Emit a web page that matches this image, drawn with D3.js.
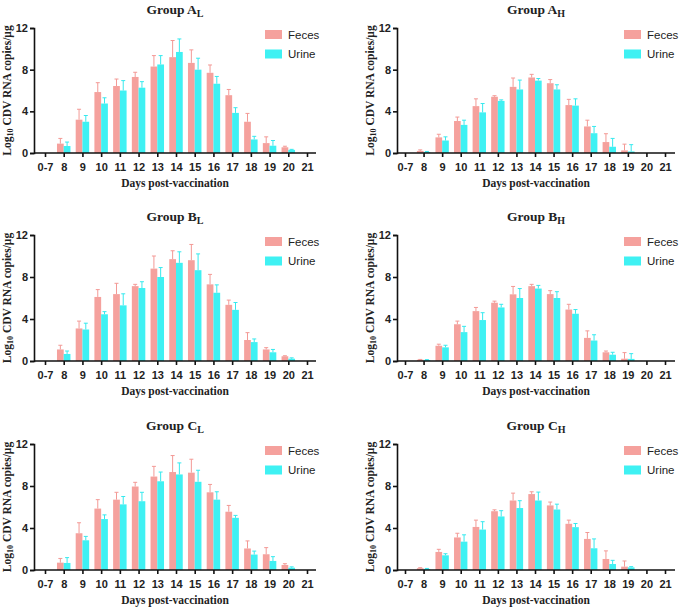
<!DOCTYPE html>
<html>
<head>
<meta charset="utf-8">
<script src="https://cdn.jsdelivr.net/npm/d3@7"></script>
<style>
  body { margin: 0; background: #fff; }
  svg { display: block; }
</style>
</head>
<body>
<svg id="chart" width="685" height="609"></svg>
<script>
// Days post-vaccination
const DAYS = ['0-7', '8', '9', '10', '11', '12', '13', '14', '15', '16', '17', '18', '19', '20', '21'];
const SERIES = ['Feces', 'Urine'];
const Y_TICKS = [0, 4, 8, 12];

// Group A low dose
const aLFeces   = [0, 0.9, 3.2, 5.85, 6.43, 7.3, 8.3, 9.2, 8.65, 7.7, 5.55, 3.0, 0.95, 0.55, 0];
const aLFecesSd = [0, 0.5, 1.0, 0.9, 0.67, 0.45, 1.05, 1.6, 1.25, 0.75, 0.55, 0.8, 0.6, 0.1, 0];
const aLUrine   = [0, 0.67, 3.0, 4.75, 6.0, 6.27, 8.5, 9.7, 8.0, 6.65, 3.85, 1.3, 0.7, 0.3, 0];
const aLUrineSd = [0, 0.38, 0.6, 0.55, 0.95, 0.58, 0.85, 1.25, 1.1, 0.7, 0.5, 0.3, 0.5, 0.05, 0];
// Group A high dose
const aHFeces   = [0, 0.2, 1.5, 3.07, 4.5, 5.4, 6.35, 7.25, 6.7, 4.6, 2.55, 1.05, 0.25, 0, 0];
const aHFecesSd = [0, 0.1, 0.3, 0.38, 0.7, 0.1, 0.85, 0.3, 0.35, 0.55, 0.6, 0.8, 0.6, 0, 0];
const aHUrine   = [0, 0.1, 1.2, 2.7, 3.9, 5.0, 6.1, 6.95, 6.1, 4.55, 1.9, 0.6, 0.15, 0, 0];
const aHUrineSd = [0, 0.05, 0.35, 0.45, 0.85, 0.1, 0.9, 0.2, 0.45, 0.65, 0.65, 0.8, 0.65, 0, 0];
// Group B low dose
const bLFeces   = [0, 1.1, 3.1, 6.1, 6.37, 7.13, 8.8, 9.7, 9.6, 7.3, 5.35, 2.0, 1.1, 0.45, 0];
const bLFecesSd = [0, 0.4, 0.7, 0.7, 1.03, 0.17, 1.2, 0.8, 1.5, 0.95, 0.45, 0.7, 0.17, 0.05, 0];
const bLUrine   = [0, 0.67, 3.0, 4.45, 5.3, 6.95, 8.0, 9.35, 8.65, 6.5, 4.87, 1.8, 0.83, 0.22, 0];
const bLUrineSd = [0, 0.28, 0.6, 0.25, 1.1, 0.6, 0.9, 1.05, 1.55, 0.75, 0.7, 0.3, 0.27, 0.08, 0];
// Group B high dose
const bHFeces   = [0, 0.12, 1.45, 3.5, 4.75, 5.55, 6.35, 7.13, 6.37, 4.9, 2.2, 0.83, 0.22, 0, 0];
const bHFecesSd = [0, 0.03, 0.15, 0.3, 0.35, 0.15, 0.75, 0.17, 0.33, 0.5, 0.67, 0.12, 0.58, 0, 0];
const bHUrine   = [0, 0.1, 1.3, 2.75, 3.9, 5.1, 6.0, 6.9, 6.0, 4.5, 1.95, 0.6, 0.2, 0, 0];
const bHUrineSd = [0, 0.03, 0.2, 0.55, 0.7, 0.3, 0.9, 0.3, 0.6, 0.4, 0.55, 0.23, 0.5, 0, 0];
// Group C low dose
const cLFeces   = [0, 0.7, 3.5, 5.85, 6.7, 7.95, 8.9, 9.33, 9.27, 7.4, 5.55, 2.05, 1.5, 0.48, 0];
const cLFecesSd = [0, 0.4, 1.0, 0.85, 0.7, 0.4, 0.97, 1.57, 1.28, 0.75, 0.6, 0.72, 0.63, 0.12, 0];
const cLUrine   = [0, 0.67, 2.83, 4.85, 6.25, 6.55, 8.45, 9.1, 8.4, 6.7, 4.97, 1.47, 0.86, 0.22, 0];
const cLUrineSd = [0, 0.51, 0.37, 0.4, 0.75, 0.85, 0.88, 1.1, 1.1, 0.75, 0.23, 0.33, 0.41, 0.08, 0];
// Group C high dose
const cHFeces   = [0, 0.17, 1.72, 3.1, 4.1, 5.6, 6.62, 7.23, 6.15, 4.4, 2.96, 1.05, 0.32, 0, 0];
const cHFecesSd = [0, 0.05, 0.25, 0.4, 0.65, 0.13, 0.7, 0.22, 0.32, 0.35, 0.61, 0.77, 0.54, 0, 0];
const cHUrine   = [0, 0.1, 1.4, 2.7, 3.85, 5.1, 5.9, 6.62, 5.76, 4.08, 2.07, 0.57, 0.25, 0, 0];
const cHUrineSd = [0, 0.05, 0.15, 0.65, 0.75, 0.55, 0.7, 0.8, 0.51, 0.35, 0.89, 0.35, 0.07, 0, 0];

const COLORS = ['#f5a19d', '#3ff1f3'];
const ERR_COLORS = ['#f39995', '#36e9ee'];

const panels = [
  { letter: 'A', sub: 'L', col: 0, row: 0, vals: [aLFeces, aLUrine], sds: [aLFecesSd, aLUrineSd] },
  { letter: 'A', sub: 'H', col: 1, row: 0, vals: [aHFeces, aHUrine], sds: [aHFecesSd, aHUrineSd] },
  { letter: 'B', sub: 'L', col: 0, row: 1, vals: [bLFeces, bLUrine], sds: [bLFecesSd, bLUrineSd] },
  { letter: 'B', sub: 'H', col: 1, row: 1, vals: [bHFeces, bHUrine], sds: [bHFecesSd, bHUrineSd] },
  { letter: 'C', sub: 'L', col: 0, row: 2, vals: [cLFeces, cLUrine], sds: [cLFecesSd, cLUrineSd] },
  { letter: 'C', sub: 'H', col: 1, row: 2, vals: [cHFeces, cHUrine], sds: [cHFecesSd, cHUrineSd] }
];

// grid: axis start, axis end, first and last category centre
const colX = [[34, 316, 45, 307], [397, 675, 405, 665]];
const rowY = [[28, 153], [235, 361], [444, 570]];

const svg = d3.select('#chart');
const SERIF = '"Liberation Serif", "Times New Roman", serif';
const SANS = '"Liberation Sans", Arial, sans-serif';

panels.forEach(p => {
  const [x0, x1, c0, c1] = colX[p.col];
  const [yTop, yBot] = rowY[p.row];
  const g = svg.append('g');

  const x = d3.scalePoint().domain(DAYS).range([c0, c1]);
  const y = d3.scaleLinear().domain([0, 12]).range([yBot, yTop]);
  const barW = x.step() * 0.36;

  // bars + error bars
  SERIES.forEach((s, si) => {
    const data = DAYS.map((d, i) => ({ day: d, v: p.vals[si][i], sd: p.sds[si][i] }));
    const off = si === 0 ? -barW : 0;

    g.append('g').selectAll('rect')
      .data(data.filter(d => d.v > 0)).join('rect')
        .attr('x', d => x(d.day) + off)
        .attr('width', barW)
        .attr('y', d => y(d.v))
        .attr('height', d => y(0) - y(d.v))
        .attr('fill', COLORS[si]);

    const eb = g.append('g')
      .attr('stroke', ERR_COLORS[si])
      .attr('stroke-width', 1)
      .selectAll('g')
      .data(data.filter(d => d.sd > 0)).join('g');
    eb.append('line')
      .attr('x1', d => x(d.day) + off + barW / 2)
      .attr('x2', d => x(d.day) + off + barW / 2)
      .attr('y1', d => y(d.v))
      .attr('y2', d => y(d.v + d.sd));
    eb.append('line')
      .attr('x1', d => x(d.day) + off + barW / 2 - 2)
      .attr('x2', d => x(d.day) + off + barW / 2 + 2)
      .attr('y1', d => y(d.v + d.sd))
      .attr('y2', d => y(d.v + d.sd));
  });

  // axes
  const yAxis = g.append('g')
    .attr('transform', `translate(${x0},0)`)
    .call(d3.axisLeft(y).tickValues(Y_TICKS).tickSize(4).tickPadding(2));
  const xAxis = g.append('g')
    .attr('transform', `translate(0,${yBot})`)
    .call(d3.axisBottom(x).tickSize(4).tickPadding(6));
  xAxis.select('.domain').attr('d', `M${x0},0H${x1}`);
  [yAxis, xAxis].forEach(a => {
    a.selectAll('.domain, line').attr('stroke', '#111').attr('stroke-width', 1.6);
    a.selectAll('text')
      .attr('font-family', SANS)
      .attr('font-weight', 'bold')
      .attr('font-size', 11)
      .attr('fill', '#222');
  });

  // title
  const cx = (x0 + x1) / 2;
  const title = g.append('text')
    .attr('x', cx)
    .attr('y', yTop - 14)
    .attr('text-anchor', 'middle')
    .attr('font-family', SERIF)
    .attr('font-weight', 'bold')
    .attr('font-size', 13.5)
    .attr('fill', '#222');
  title.append('tspan').text(`Group ${p.letter}`);
  title.append('tspan').attr('font-size', 10).attr('dy', 3).text(p.sub);

  // x label
  g.append('text')
    .attr('x', cx)
    .attr('y', yBot + 34)
    .attr('text-anchor', 'middle')
    .attr('font-family', SERIF)
    .attr('font-weight', 'bold')
    .attr('font-size', 11.5)
    .attr('fill', '#222')
    .text('Days post-vaccination');

  // y label
  const yl = g.append('text')
    .attr('transform', `translate(${x0 - 23},${(yTop + yBot) / 2}) rotate(-90)`)
    .attr('text-anchor', 'middle')
    .attr('font-family', SERIF)
    .attr('font-weight', 'bold')
    .attr('font-size', 11.5)
    .attr('fill', '#222');
  yl.append('tspan').text('Log');
  yl.append('tspan').attr('font-size', 8).attr('dy', 2).text('10');
  yl.append('tspan').attr('dy', -2).text(' CDV RNA copies/μg');

  // legend
  const lg = g.append('g').selectAll('g')
    .data(SERIES).join('g')
      .attr('transform', (d, i) => `translate(${x1 - 51},${yTop + 6 + i * 19.5})`);
  lg.append('rect')
    .attr('x', 0).attr('y', -4)
    .attr('width', 17).attr('height', 9)
    .attr('fill', (d, i) => COLORS[i]);
  lg.append('text')
    .attr('x', 23).attr('y', 4.5)
    .attr('font-family', SANS)
    .attr('font-size', 11.5)
    .attr('fill', '#222')
    .text(d => d);
});
</script>
</body>
</html>
